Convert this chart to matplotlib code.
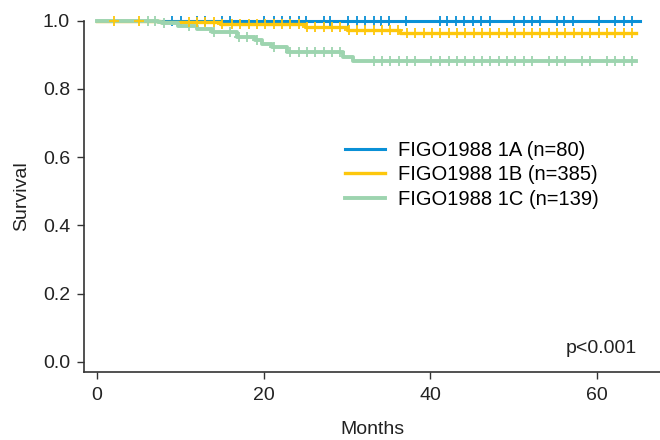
import numpy as np
import matplotlib.pyplot as plt

plt.rcParams['font.family'] = ['Liberation Sans', 'DejaVu Sans']

# Kaplan-Meier step data (months, survival)
blue_times = [0, 65.2]
blue_surv = [1.0, 1.0]
yellow_times = [0, 7.6, 14.8, 25.0, 30.0, 36.4, 64.7]
yellow_surv = [1.0, 0.995, 0.990, 0.980, 0.971, 0.964, 0.964]
green_times = [0, 7.3, 7.8, 9.7, 12.0, 13.8, 16.8, 19.0, 19.8, 21.0, 22.8, 29.5, 30.7, 64.7]
green_surv = [1.0, 0.995, 0.992, 0.985, 0.976, 0.966, 0.951, 0.942, 0.932, 0.922,
              0.908, 0.894, 0.880, 0.880]

# censoring times
blue_cens = [9.0, 10.1, 12.0, 13.0, 15.0, 16.0, 20.0, 21.2, 22.2, 23.2, 24.2, 25.1,
             27.2, 28.0, 30.1, 31.2, 32.2, 33.2, 34.1, 35.1, 37.1, 41.2, 42.0, 43.1,
             44.1, 45.1, 46.1, 47.2, 50.1, 51.2, 52.2, 53.2, 55.2, 56.1, 57.1, 60.2,
             62.2, 63.2, 64.2]
yellow_cens = [2.0, 5.0, 11.0, 12.0, 13.0, 14.0, 15.0, 16.2, 17.2, 18.2, 19.2, 20.2,
               21.2, 22.2, 23.2, 24.2, 25.2, 26.2, 27.2, 28.2, 29.2, 30.2, 31.2, 32.2,
               33.2, 34.2, 35.2, 36.1, 37.2, 38.2, 39.2, 40.2, 41.2, 42.2, 43.2, 44.2,
               45.2, 46.2, 47.2, 48.2, 49.2, 50.2, 51.2, 52.2, 53.2, 54.2, 55.2, 56.2,
               57.2, 58.2, 59.2, 60.2, 61.2, 62.2, 63.2, 64.2]
green_cens = [6.1, 7.0, 8.0, 11.0, 14.0, 16.0, 17.0, 18.0, 19.2, 21.2, 23.2, 24.2,
              25.2, 26.2, 27.2, 28.2, 29.2, 33.2, 34.2, 35.2, 36.2, 37.2, 38.2, 40.1,
              41.2, 42.2, 43.2, 44.2, 45.2, 46.2, 47.2, 48.2, 49.2, 50.2, 51.2, 52.2,
              54.2, 55.2, 56.2, 58.2, 59.2, 61.2, 62.2, 63.2, 64.2]

labels = ["FIGO1988 1A (n=80)", "FIGO1988 1B (n=385)", "FIGO1988 1C (n=139)"]
colors = ["#0a90d6", "#fdc70c", "#9dd4af"]


def surv_at(times, surv, t):
    idx = np.searchsorted(times, t, side="right") - 1
    return np.array(surv)[idx]


fig = plt.figure(figsize=(6.6, 4.4), dpi=100)
ax = fig.add_axes([84 / 660, 1 - 372 / 440, 1 - 84 / 660, (372 - 20.5) / 440])

series = [
    (blue_times, blue_surv, blue_cens, 2.2, 2),
    (yellow_times, yellow_surv, yellow_cens, 2.4, 3),
    (green_times, green_surv, green_cens, 2.8, 4),
]
for (t, s, c, lw, z), lab, col in zip(series, labels, colors):
    ax.step(t, s, where="post", color=col, lw=lw, label=lab, zorder=z, clip_on=False)
    ax.plot(c, surv_at(t, s, c), "+", color=col, ms=6.5, mew=1.3,
            zorder=z + (2 if col == colors[1] else 0), clip_on=False)

ax.set_xlim(-1.56, 67.56)
ax.set_ylim(-0.0293, 1.0)
ax.set_xticks([0, 20, 40, 60])
ax.set_yticks([0.0, 0.2, 0.4, 0.6, 0.8, 1.0])
ax.set_yticklabels(["0.0", "0.2", "0.4", "0.6", "0.8", "1.0"])
ax.spines["top"].set_visible(False)
ax.spines["right"].set_visible(False)
for sp in ["left", "bottom"]:
    ax.spines[sp].set_color("#333333")
    ax.spines[sp].set_linewidth(1.2)
ax.tick_params(axis="both", labelsize=14, length=5, width=1.0, color="#333333",
               labelcolor="#222222")
ax.tick_params(axis="y", pad=5)
ax.tick_params(axis="x", pad=6)

ax.set_xlabel("Months", fontsize=14, color="#222222", labelpad=12)
ax.set_ylabel("Survival", fontsize=14, color="#222222", labelpad=9)

ax.text(64.8, 0.04, "p<0.001", fontsize=14, color="#222222", ha="right", va="center")

ax.legend(loc="upper left", bbox_to_anchor=(345 / 660, 1 - 141 / 440),
          bbox_transform=fig.transFigure, frameon=False, fontsize=14.5,
          handlelength=2.0, handletextpad=0.65, labelspacing=0.27, borderpad=0,
          borderaxespad=0)

fig.savefig("out.png", dpi=100)
